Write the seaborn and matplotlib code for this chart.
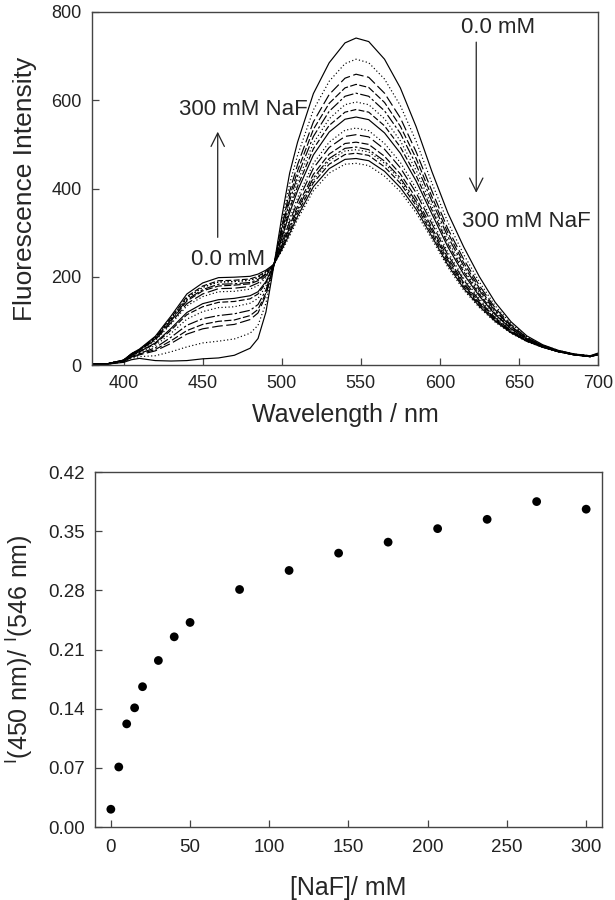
import matplotlib
matplotlib.use("Agg")
import matplotlib.pyplot as plt
import seaborn as sns
import numpy as np

# --- spectra (fluorescence intensity vs wavelength), one list per [NaF] ---
wavelength = [380, 390, 400, 405, 410, 420, 430, 440, 450, 460, 470, 480, 485, 490, 495,
              500, 505, 510, 520, 530, 540, 547, 555, 565, 575, 585, 595, 605, 615, 625,
              635, 645, 655, 665, 675, 685, 695, 700]

I_0 = [2, 2, 6, 12, 15, 10, 9, 10, 14, 16, 22, 38, 60, 120, 225, 335, 435, 505, 615, 685, 730, 741, 733, 693, 628, 540, 438, 345, 268, 200, 142, 98, 66, 46, 33, 25, 21, 27]
I_5 = [2, 2, 7, 15, 19, 21, 30, 41, 50, 54, 59, 72, 90, 140, 226, 322, 411, 475, 578, 643, 683, 693, 685, 648, 588, 507, 412, 324, 251, 188, 134, 94, 64, 45, 33, 25, 21, 26]
I_10 = [2, 2, 8, 17, 23, 32, 49, 70, 82, 88, 92, 103, 118, 158, 226, 313, 394, 454, 551, 613, 650, 659, 652, 616, 560, 483, 394, 309, 240, 180, 129, 91, 62, 44, 32, 24, 20, 26]
I_15 = [2, 2, 8, 18, 25, 35, 55, 78, 92, 99, 102, 112, 126, 163, 226, 307, 382, 440, 534, 593, 628, 636, 629, 595, 541, 468, 381, 300, 232, 174, 125, 88, 61, 44, 32, 24, 20, 25]
I_20 = [2, 3, 9, 19, 26, 39, 63, 90, 105, 112, 116, 124, 137, 170, 226, 301, 372, 428, 518, 575, 609, 616, 609, 576, 525, 454, 371, 291, 225, 169, 122, 87, 60, 43, 32, 24, 20, 25]
I_30 = [2, 3, 9, 21, 28, 44, 72, 104, 121, 130, 132, 140, 151, 179, 227, 296, 362, 416, 503, 558, 590, 596, 590, 558, 508, 441, 360, 282, 218, 164, 119, 85, 59, 43, 31, 24, 20, 25]
I_40 = [2, 3, 10, 22, 30, 48, 79, 114, 132, 142, 144, 150, 161, 186, 227, 291, 354, 405, 490, 543, 573, 579, 573, 542, 494, 429, 351, 275, 212, 160, 116, 83, 59, 43, 31, 24, 20, 25]
I_50 = [2, 3, 10, 22, 30, 50, 83, 119, 139, 148, 151, 157, 166, 189, 227, 287, 345, 395, 476, 528, 557, 562, 556, 526, 480, 417, 342, 268, 206, 156, 114, 82, 58, 42, 31, 24, 20, 25]
I_81 = [2, 3, 10, 23, 32, 55, 93, 134, 155, 166, 167, 172, 180, 198, 227, 280, 332, 379, 457, 505, 532, 537, 531, 502, 459, 400, 328, 256, 197, 150, 110, 79, 57, 42, 31, 24, 20, 24]
I_112 = [2, 3, 11, 24, 33, 57, 96, 139, 161, 173, 174, 178, 186, 202, 227, 276, 325, 370, 446, 493, 518, 522, 517, 489, 447, 390, 320, 250, 193, 146, 107, 78, 56, 41, 31, 23, 19, 24]
I_144 = [2, 3, 11, 24, 34, 59, 100, 145, 168, 179, 181, 184, 191, 206, 227, 271, 316, 360, 432, 478, 502, 505, 500, 473, 433, 378, 311, 243, 187, 142, 105, 76, 55, 41, 30, 23, 19, 24]
I_175 = [2, 3, 11, 25, 34, 60, 102, 148, 171, 183, 184, 187, 194, 207, 228, 268, 311, 353, 424, 468, 491, 494, 488, 462, 424, 370, 305, 238, 183, 139, 103, 75, 55, 41, 30, 23, 19, 24]
I_206 = [2, 3, 11, 25, 35, 62, 105, 152, 176, 188, 189, 192, 198, 210, 228, 266, 308, 349, 419, 463, 485, 488, 483, 457, 419, 366, 302, 236, 181, 138, 102, 75, 54, 41, 30, 23, 19, 23]
I_238 = [2, 3, 11, 25, 35, 63, 107, 155, 179, 191, 192, 195, 201, 212, 228, 264, 303, 344, 413, 455, 477, 480, 475, 449, 412, 361, 297, 232, 178, 136, 101, 74, 54, 41, 30, 23, 19, 23]
I_269 = [2, 3, 11, 26, 36, 65, 111, 161, 186, 198, 199, 201, 206, 215, 228, 261, 298, 337, 404, 445, 466, 468, 463, 439, 402, 353, 291, 227, 174, 133, 99, 73, 54, 40, 30, 23, 19, 23]
I_300 = [2, 3, 11, 25, 35, 62, 105, 152, 176, 188, 189, 192, 198, 210, 228, 258, 292, 330, 395, 435, 455, 457, 452, 428, 393, 345, 285, 222, 170, 130, 97, 72, 53, 40, 30, 23, 19, 23]

# --- intensity ratio vs [NaF] ---
naf_mM = [0, 5, 10, 15, 20, 30, 40, 50, 81.25, 112.5, 143.75, 175, 206.25, 237.5, 268.75, 300]
ratio = [0.021, 0.071, 0.122, 0.141, 0.166, 0.197, 0.225, 0.242, 0.281, 0.3035,
         0.324, 0.337, 0.353, 0.364, 0.385, 0.376]

spectra = [I_0, I_5, I_10, I_15, I_20, I_30, I_40, I_50, I_81, I_112,
           I_144, I_175, I_206, I_238, I_269, I_300]
line_styles = ["-", (0, (1, 2)), (0, (9, 3)), (0, (6, 2)), (0, (9, 2, 2, 2)), (0, (1, 2)),
               (0, (5, 2)), "-", (0, (1, 2)), (0, (9, 3)), (0, (6, 2)), (0, (9, 2, 2, 2)),
               (0, (1, 2)), (0, (5, 2)), "-", (0, (1, 2))]

sns.set_theme(style="white")
plt.rcParams["font.family"] = ["Liberation Sans", "DejaVu Sans"]
plt.rcParams["mathtext.fontset"] = "custom"
plt.rcParams["mathtext.rm"] = "Liberation Sans"

W, H = 615, 900
fig = plt.figure(figsize=(W / 100, H / 100), dpi=100)
ax1 = fig.add_axes([92 / W, 1 - 365 / H, (598 - 92) / W, (365 - 12) / H])
ax2 = fig.add_axes([95 / W, 1 - 827 / H, (602 - 95) / W, (827 - 472) / H])

# top: spectra
for spec, ls in zip(spectra, line_styles):
    sns.lineplot(x=wavelength, y=spec, ax=ax1, color="black", linewidth=0.85,
                 linestyle=ls, legend=False)

ax1.set_xlim(380, 700)
ax1.set_ylim(0, 800)
ax1.set_xticks(range(400, 701, 50))
ax1.set_yticks(range(0, 801, 200))
ax1.set_xlabel("Wavelength / nm", fontsize=18)
ax1.set_ylabel("Fluorescence Intensity", fontsize=19)
ax1.xaxis.set_label_coords(0.5, -0.108)
ax1.yaxis.set_label_coords(-0.109, 0.5)

arrow = dict(arrowstyle="->", color="#222222", lw=0.9, mutation_scale=24)
ax1.annotate("", xy=(459.5, 535), xytext=(459.5, 283), arrowprops=arrow)
ax1.annotate("", xy=(623, 384), xytext=(623, 738), arrowprops=arrow)
ax1.text(476, 580, "300 mM NaF", fontsize=16, ha="center", va="center")
ax1.text(466, 240, "0.0 mM", fontsize=16, ha="center", va="center")
ax1.text(637, 764, "0.0 mM", fontsize=16, ha="center", va="center")
ax1.text(614, 325, "300 mM NaF", fontsize=16, ha="left", va="center")

# bottom: ratio
sns.scatterplot(x=naf_mM, y=ratio, ax=ax2, color="black", s=40, edgecolor="none",
                legend=False)
ax2.set_xlim(-10, 310)
ax2.set_ylim(0, 0.42)
ax2.set_xticks(range(0, 301, 50))
ax2.set_yticks([0.0, 0.07, 0.14, 0.21, 0.28, 0.35, 0.42])
ax2.yaxis.set_major_formatter(matplotlib.ticker.FormatStrFormatter("%.2f"))
ax2.set_xlabel("[NaF]/ mM", fontsize=18)
ax2.set_ylabel(r"$\mathregular{^{I}(450\ nm)/\ ^{I}(546\ nm)}$", fontsize=18)
ax2.xaxis.set_label_coords(0.5, -0.138)
ax2.yaxis.set_label_coords(-0.118, 0.5)

for ax, lsize, xpad in ((ax1, 13, 7), (ax2, 13.5, 9)):
    for sp in ax.spines.values():
        sp.set_visible(True)
        sp.set_color("#444444")
        sp.set_linewidth(1.0)
    ax.tick_params(axis="both", which="major", direction="in", length=5, width=0.9,
                   color="#444444", labelsize=lsize, labelcolor="#222222",
                   bottom=True, left=True, top=False, right=False)
    ax.tick_params(axis="x", pad=xpad)
    ax.tick_params(axis="y", pad=7.5)

fig.savefig("out.png", dpi=100)
